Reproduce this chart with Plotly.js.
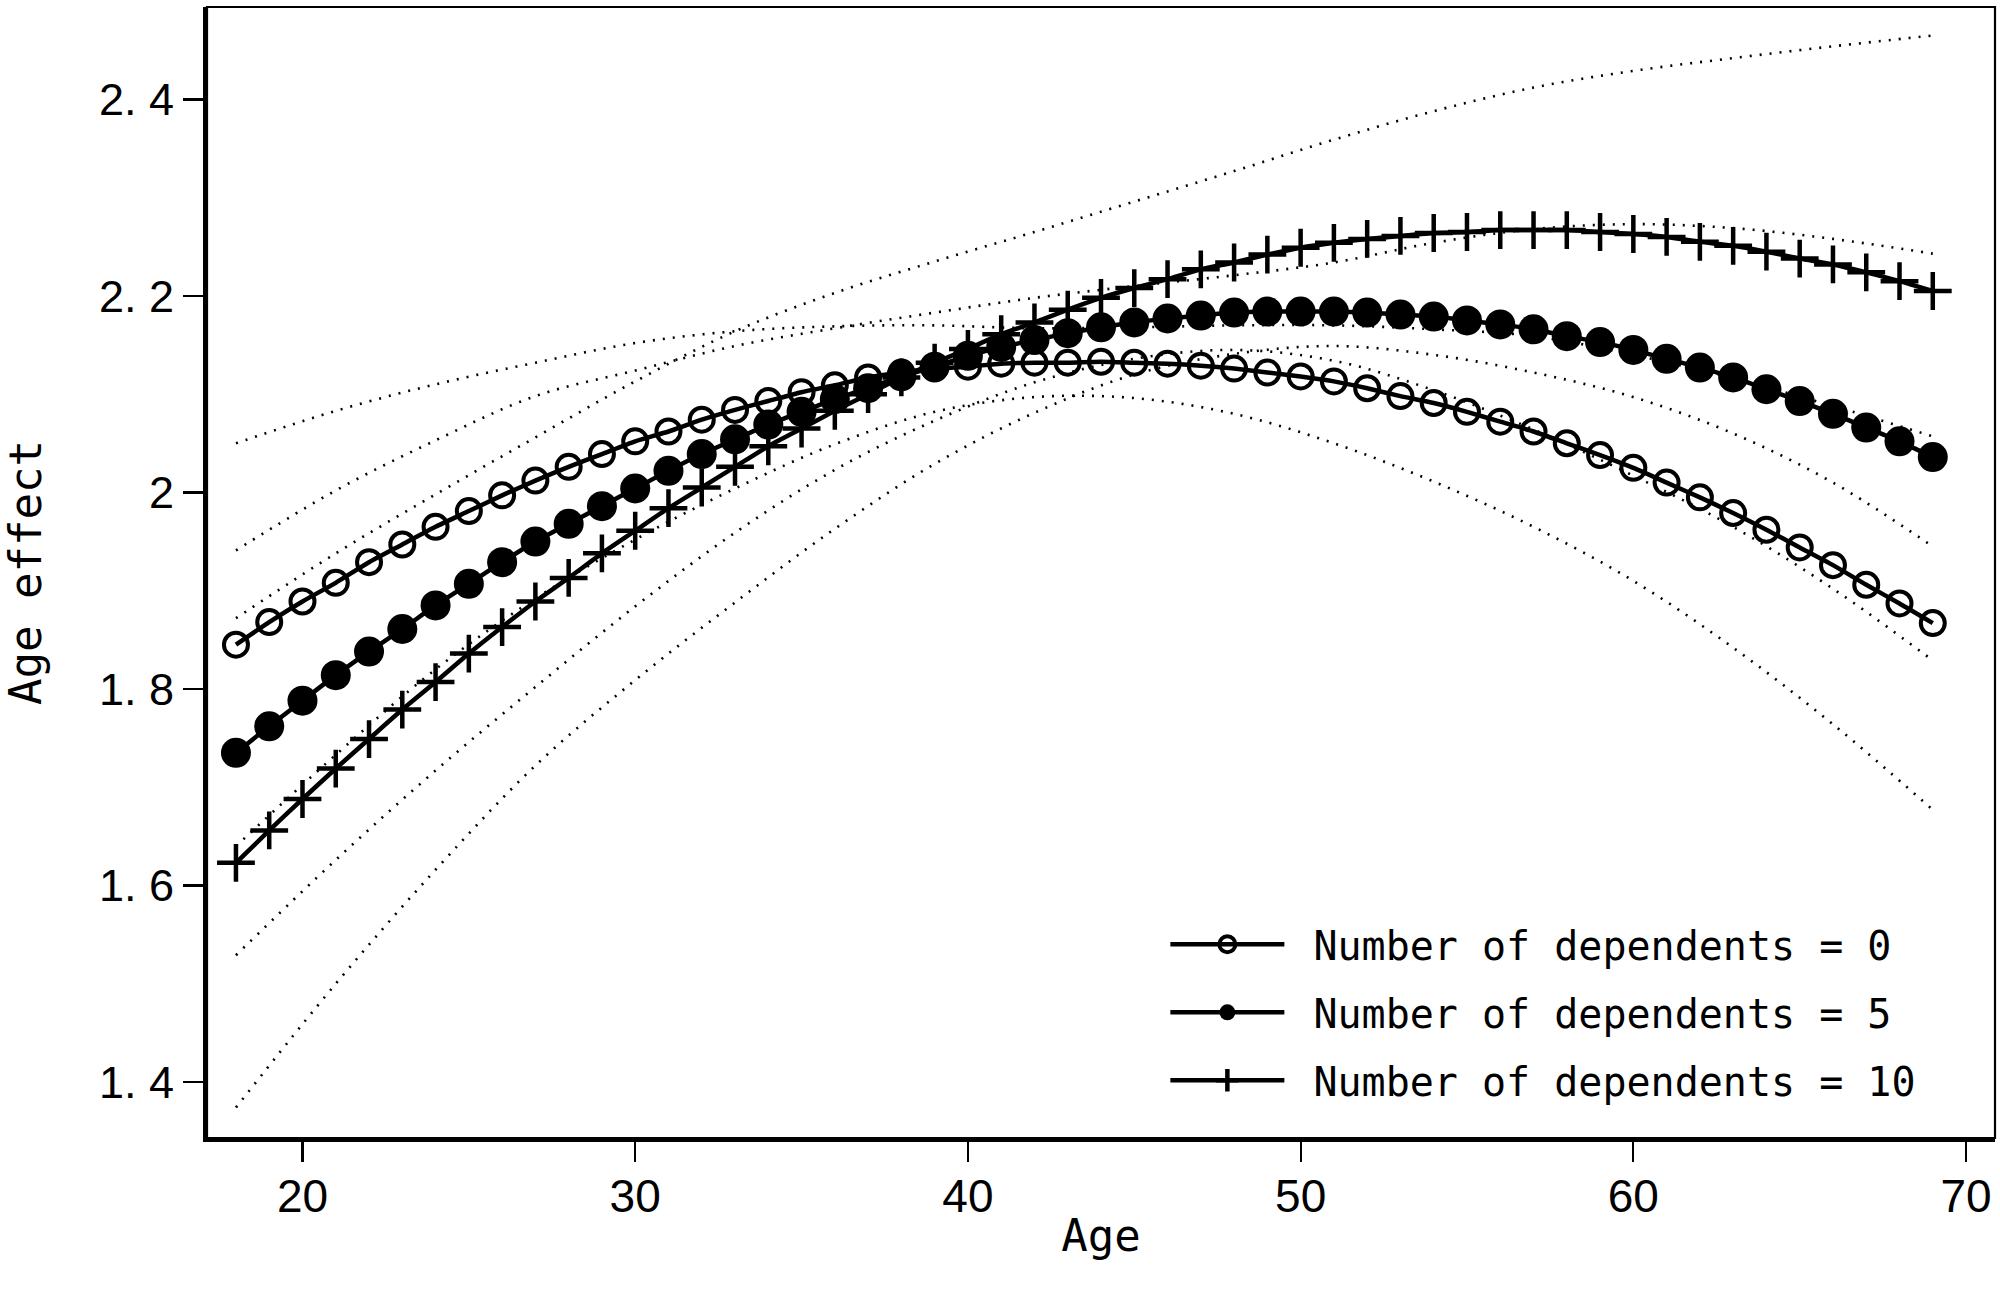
<!DOCTYPE html>
<html>
<head>
<meta charset="utf-8">
<script src="https://cdn.plot.ly/plotly-3.0.1.min.js"></script>
<style>html,body{margin:0;padding:0;background:#fff;}#chart{width:2000px;height:1298px;}</style>
</head>
<body>
<div id="chart"></div>
<script>
// Ages for the fitted curves (one point per year)
const ages = [18,19,20,21,22,23,24,25,26,27,28,29,30,31,32,33,34,35,36,37,38,39,40,41,42,43,
              44,45,46,47,48,49,50,51,52,53,54,55,56,57,58,59,60,61,62,63,64,65,66,67,68,69];

// Fitted age effect, Number of dependents = 0
const dep0 = [1.845,1.868,1.889,1.908,1.929,1.947,1.965,1.981,1.997,2.012,2.026,2.039,2.052,2.062,2.074,2.084,2.093,2.102,2.109,2.117,2.122,2.126,2.128,2.131,2.132,2.132,
              2.133,2.132,2.131,2.129,2.126,2.122,2.118,2.113,2.106,2.098,2.091,2.082,2.072,2.062,2.050,2.038,2.025,2.010,1.995,1.979,1.962,1.944,1.926,1.906,1.887,1.867];

// Fitted age effect, Number of dependents = 5
const dep5 = [1.735,1.762,1.788,1.814,1.838,1.861,1.885,1.907,1.929,1.950,1.968,1.986,2.004,2.022,2.039,2.054,2.069,2.082,2.095,2.106,2.118,2.128,2.139,2.148,2.155,2.162,
              2.168,2.173,2.177,2.180,2.183,2.184,2.184,2.184,2.183,2.181,2.179,2.175,2.171,2.166,2.159,2.153,2.145,2.136,2.127,2.117,2.105,2.093,2.080,2.066,2.052,2.036];

// Fitted age effect, Number of dependents = 10
const dep10 = [1.623,1.656,1.688,1.719,1.749,1.779,1.807,1.836,1.863,1.889,1.913,1.938,1.961,1.984,2.005,2.026,2.047,2.065,2.083,2.100,2.117,2.132,2.146,2.161,2.173,2.186,
               2.198,2.208,2.217,2.227,2.234,2.242,2.249,2.254,2.258,2.261,2.264,2.265,2.267,2.267,2.267,2.265,2.263,2.260,2.255,2.251,2.245,2.238,2.232,2.224,2.215,2.205];

// Confidence bands (dotted), read every 3 years
const bandAges = [18,21,24,27,30,33,36,39,42,45,48,51,54,57,60,63,66,69];
const dep0Upper  = [2.050,2.083,2.110,2.132,2.152,2.164,2.169,2.170,2.167,2.168,2.170,2.170,2.166,2.159,2.140,2.116,2.088,2.057];
const dep0Lower  = [1.640,1.733,1.820,1.892,1.952,2.004,2.049,2.082,2.097,2.096,2.080,2.050,2.011,1.965,1.910,1.842,1.764,1.677];
const dep5Upper  = [1.941,2.002,2.053,2.098,2.124,2.149,2.167,2.183,2.198,2.210,2.221,2.234,2.254,2.268,2.273,2.269,2.258,2.243];
const dep5Lower  = [1.529,1.626,1.717,1.802,1.884,1.959,2.023,2.073,2.112,2.136,2.145,2.134,2.104,2.064,2.017,1.965,1.902,1.829];
const dep10Upper = [1.872,1.938,1.998,2.056,2.113,2.164,2.203,2.235,2.265,2.296,2.327,2.359,2.388,2.412,2.429,2.442,2.454,2.465];
const dep10Lower = [1.374,1.500,1.616,1.722,1.809,1.888,1.963,2.029,2.081,2.120,2.141,2.149,2.140,2.122,2.097,2.060,2.010,1.945];

const seriesNames = ['Number of dependents = 0','Number of dependents = 5','Number of dependents = 10'];
const xTicks = [20,30,40,50,60,70];
const yTicks = [1.4,1.6,1.8,2.0,2.2,2.4];
const yTickText = ['1. 4','1. 6','1. 8','2','2. 2','2. 4'];

const mono = 'DejaVu Sans Mono, monospace';
const sans = 'Liberation Sans, Arial, sans-serif';

function band(y){
  return {x: bandAges, y: y, type:'scatter', mode:'lines', showlegend:false, hoverinfo:'skip',
          line:{color:'#000', width:2.6, dash:'2px,8px', shape:'spline', smoothing:1}};
}

const traces = [
  band(dep0Upper), band(dep0Lower), band(dep5Upper), band(dep5Lower), band(dep10Upper), band(dep10Lower),
  {x: ages, y: dep0, type:'scatter', mode:'lines+markers', name: ' ' + seriesNames[0], legendgroup:'a',
   line:{color:'#000', width:4.5, shape:'spline', smoothing:0.6},
   marker:{symbol:'circle-open', size:24, color:'#000', line:{color:'#000', width:4}}},
  {x: ages, y: dep5, type:'scatter', mode:'lines+markers', name: ' ' + seriesNames[1], legendgroup:'b',
   line:{color:'#000', width:4.5, shape:'spline', smoothing:0.6},
   marker:{symbol:'circle', size:30, color:'#000', line:{width:0}}},
  {x: ages, y: dep10, type:'scatter', mode:'lines+markers', name: ' ' + seriesNames[2], legendgroup:'c',
   line:{color:'#000', width:4.5, shape:'spline', smoothing:0.6},
   marker:{symbol:'cross-thin', size:27, color:'#000', line:{color:'#000', width:4.5}}}
];

const layout = {
  width:2000, height:1298,
  margin:{l:207, r:5, t:7, b:160},
  paper_bgcolor:'#fff', plot_bgcolor:'#fff',
  font:{family: sans, color:'#000'},
  showlegend:true,
  legend:{x:0.536, xanchor:'left', y:0.2, yanchor:'top', bgcolor:'rgba(0,0,0,0)',
          font:{family: mono, size:40, color:'#000'}, itemwidth:114, tracegroupgap:13,
          traceorder:'grouped'},
  xaxis:{range:[17.13,70.87], tickvals:xTicks, ticks:'outside', ticklen:20, tickwidth:2.2, tickcolor:'#000',
         showline:true, linewidth:4, linecolor:'#000', showgrid:false, zeroline:false,
         tickfont:{family: sans, size:46, color:'#000'}, ticklabelstandoff:-5,
         title:{text:'Age', font:{family: mono, size:44, color:'#000'}, standoff:0}},
  yaxis:{range:[1.343,2.494], tickvals:yTicks, ticktext:yTickText, ticks:'outside', ticklen:20, tickwidth:2.6, tickcolor:'#000',
         showline:true, linewidth:4, linecolor:'#000', showgrid:false, zeroline:false,
         tickfont:{family: sans, size:45, color:'#000'}, ticklabelstandoff:0,
         title:{text:'Age effect', font:{family: mono, size:44, color:'#000'}, standoff:55}},
  shapes:[{type:'rect', xref:'paper', yref:'paper', x0:0, x1:1, y0:0, y1:1, line:{color:'#000', width:2.2}, layer:'above'}]
};

Plotly.newPlot('chart', traces, layout, {displayModeBar:false, staticPlot:true});
</script>
</body>
</html>
